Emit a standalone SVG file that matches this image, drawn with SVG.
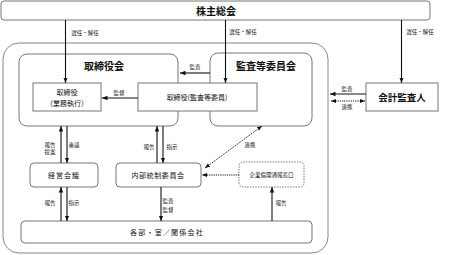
<svg xmlns="http://www.w3.org/2000/svg" width="458" height="255" viewBox="0 0 458 255">
<defs>
<style>
.box{fill:#fff;stroke:#777;stroke-width:1}
.grp{fill:none;stroke:#888;stroke-width:1}
.dot{fill:#fff;stroke:#777;stroke-width:1;stroke-dasharray:1.5 1.2}
.ln{stroke:#111;stroke-width:1.1;fill:none}
.dl{stroke:#111;stroke-width:1;fill:none;stroke-dasharray:1.2 1}
text{font-family:"Noto Sans CJK JP","Noto Sans",sans-serif;fill:#111;text-anchor:middle}
.t{font-size:10px;font-weight:bold}
.m{font-size:7px}
.s{font-size:5.5px}
</style>
<marker id="ah" viewBox="0 0 10 10" refX="10" refY="5" markerWidth="5" markerHeight="5" orient="auto-start-reverse"><path d="M0,1 L10,5 L0,9 z" fill="#111"/></marker>
</defs>
<g id="outer"><rect class="grp" x="3" y="43" width="325" height="210" rx="16"/></g>
<g id="shareholders"><rect class="box" x="1" y="1" width="429" height="19" rx="3"/><text class="t" x="216" y="15">株主総会</text></g>
<g id="board"><rect class="box" x="19" y="54" width="159" height="72" rx="8"/><text class="t" x="104" y="70">取締役会</text></g>
<g id="audit-committee"><rect class="box" x="210" y="53" width="102" height="73" rx="8"/><text class="t" x="266" y="70">監査等委員会</text></g>
<g id="exec-director"><rect class="box" x="33" y="83" width="68" height="28"/><text class="m" x="67" y="95">取締役</text><text class="m" x="67" y="106">（業務執行）</text></g>
<g id="audit-director"><rect class="box" x="138" y="83" width="119" height="28"/><text class="m" x="197" y="100">取締役(監査等委員)</text></g>
<g id="accounting-auditor"><rect class="box" x="366" y="83" width="72" height="28"/><text class="t" x="402" y="101" style="font-size:9.5px">会計監査人</text></g>
<g id="management"><rect class="box" x="30" y="163" width="68" height="24" rx="4"/><text class="m" x="64" y="178" style="letter-spacing:1px">経営会議</text></g>
<g id="internal-control"><rect class="box" x="116" y="163" width="85" height="24" rx="4"/><text class="m" x="158" y="178" style="letter-spacing:0.6px">内部統制委員会</text></g>
<g id="ethics-hotline"><rect class="dot" x="239" y="162" width="65" height="25" rx="4"/><text class="s" x="271.5" y="177">企業倫理通報窓口</text></g>
<g id="departments"><rect class="box" x="21" y="221" width="291" height="22" rx="4"/><text class="m" x="167" y="235" style="letter-spacing:1.2px">各部・室／関係会社</text></g>
<g id="connectors">
<line class="ln" x1="65.5" y1="20" x2="65.5" y2="83" marker-end="url(#ah)"/>
<line class="ln" x1="225.5" y1="20" x2="225.5" y2="83" marker-end="url(#ah)"/>
<line class="ln" x1="401.5" y1="20" x2="401.5" y2="83" marker-end="url(#ah)"/>
<line class="ln" x1="210" y1="73" x2="180" y2="73" marker-end="url(#ah)"/>
<line class="ln" x1="138" y1="98" x2="102" y2="98" marker-end="url(#ah)"/>
<line class="ln" x1="366" y1="94" x2="330" y2="94" marker-end="url(#ah)"/>
<line class="dl" x1="331" y1="101" x2="365" y2="101" marker-start="url(#ah)" marker-end="url(#ah)"/>
<line class="ln" x1="61" y1="163" x2="61" y2="126" marker-end="url(#ah)"/>
<line class="ln" x1="67" y1="126" x2="67" y2="163" marker-end="url(#ah)"/>
<line class="ln" x1="157" y1="163" x2="157" y2="126" marker-end="url(#ah)"/>
<line class="ln" x1="163" y1="126" x2="163" y2="163" marker-end="url(#ah)"/>
<line class="ln" x1="61" y1="221" x2="61" y2="187" marker-end="url(#ah)"/>
<line class="ln" x1="67" y1="187" x2="67" y2="221" marker-end="url(#ah)"/>
<line class="ln" x1="161" y1="187" x2="161" y2="221" marker-end="url(#ah)"/>
<line class="ln" x1="272" y1="221" x2="272" y2="187" marker-end="url(#ah)"/>
<line class="dl" x1="239" y1="175" x2="202" y2="175" marker-end="url(#ah)"/>
<line class="dl" x1="205" y1="168" x2="262" y2="126" marker-start="url(#ah)" marker-end="url(#ah)"/>
</g>
<g id="labels">
<text class="s" x="85" y="35">選任・解任</text>
<text class="s" x="243" y="34">選任・解任</text>
<text class="s" x="420" y="34">選任・解任</text>
<text class="s" x="195" y="69">監査</text>
<text class="s" x="119" y="95">監督</text>
<text class="s" x="347" y="91">監査</text>
<text class="s" x="347" y="109">連携</text>
<text class="s" x="50" y="147">報告</text>
<text class="s" x="50" y="154">提案</text>
<text class="s" x="74" y="147">審議</text>
<text class="s" x="149" y="149">報告</text>
<text class="s" x="172" y="149">指示</text>
<text class="s" x="50" y="205">報告</text>
<text class="s" x="74" y="205">指示</text>
<text class="s" x="168" y="203">監査</text>
<text class="s" x="168" y="212">監督</text>
<text class="s" x="281" y="205">報告</text>
<text class="s" x="250" y="147">連携</text>
</g>
</svg>
